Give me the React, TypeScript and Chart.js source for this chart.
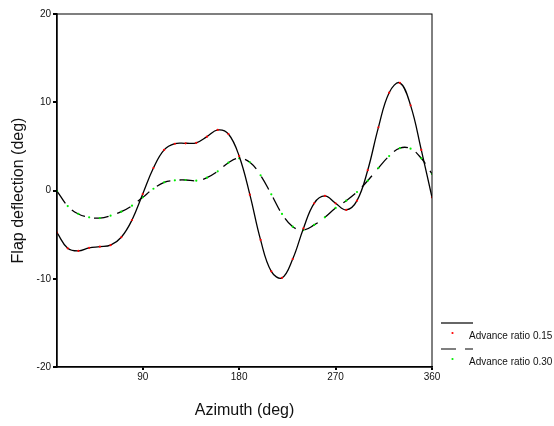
import React, { useEffect, useRef } from 'react';
import { Chart, registerables } from 'chart.js';

Chart.register(...registerables);

// ---- data ----
const azimuth = [10, 20, 30, 40, 50, 60, 70, 80, 90, 100, 110, 120, 130, 140, 150, 160, 170, 180,
  190, 200, 210, 220, 230, 240, 250, 260, 270, 280, 290, 300, 310, 320, 330, 340, 350, 360];

const advance015 = [-4.78, -6.55, -6.85, -6.5, -6.37, -6.2, -5.3, -3.34, -0.4, 2.55, 4.6, 5.3,
  5.35, 5.4, 6.1, 6.86, 6.4, 3.9, -0.47, -5.6, -9.16, -9.9, -7.76, -4.3,
  -1.45, -0.62, -1.45, -2.2, -1.15, 2.3, 7.16, 11.08, 12.2, 9.65, 4.6, -0.77];

const advance030 = [-0.06, -1.76, -2.66, -3.04, -3.12, -2.85, -2.4, -1.72, -0.77, 0.2, 0.93, 1.15,
  1.19, 1.11, 1.45, 2.17, 3.15, 3.65, 3.2, 1.72, -0.43, -2.66, -4.1, -4.48,
  -3.9, -3.04, -1.98, -1.15, -0.17, 1.11, 2.55, 3.9, 4.8, 4.74, 3.65, 1.87];

const xTickValues = [90, 180, 270, 360];
const yTickValues = [-20, -10, 0, 10, 20];
const seriesLabels = ['Advance ratio 0.15', 'Advance ratio 0.30'];
const xTitle = 'Azimuth (deg)';
const yTitle = 'Flap deflection (deg)';

const FONT = "Arial, 'Liberation Sans', Helvetica, sans-serif";

export default function App() {
  const ref = useRef<HTMLCanvasElement>(null);

  useEffect(() => {
    if (!ref.current) return;

    const framePlugin = {
      id: 'frame',
      afterDraw(chart: any) {
        const { ctx, chartArea: a } = chart;
        ctx.save();
        ctx.strokeStyle = '#000';
        ctx.lineWidth = 1;
        ctx.strokeRect(a.left, a.top, a.right - a.left, a.bottom - a.top);
        ctx.restore();
      },
    };

    const legendPlugin = {
      id: 'sideLegend',
      afterDraw(chart: any) {
        const { ctx, chartArea: a } = chart;
        ctx.save();
        const x0 = a.right + 9;
        const x1 = x0 + 32;
        let y = a.bottom - 44;
        chart.data.datasets.forEach((ds: any) => {
          // line sample
          ctx.strokeStyle = ds.borderColor;
          ctx.lineWidth = 1.2;
          ctx.setLineDash(ds.borderDash || []);
          ctx.beginPath();
          ctx.moveTo(x0, y);
          ctx.lineTo(x1, y);
          ctx.stroke();
          ctx.setLineDash([]);
          // point sample
          ctx.fillStyle = ds.pointBackgroundColor;
          ctx.beginPath();
          ctx.arc(x0 + 11.5, y + 10, 1.1, 0, Math.PI * 2);
          ctx.fill();
          // text
          ctx.fillStyle = '#111';
          ctx.font = `10px ${FONT}`;
          ctx.textBaseline = 'middle';
          ctx.textAlign = 'left';
          ctx.fillText(ds.label, x0 + 28, y + 13.5);
          y += 26;
        });
        ctx.restore();
      },
    };

    const chart = new Chart(ref.current, {
      type: 'line',
      data: {
        datasets: [
          {
            label: seriesLabels[0],
            data: azimuth.map((x, i) => ({ x, y: advance015[i] })),
            borderColor: '#000',
            borderWidth: 1.3,
            tension: 0.4,
            pointRadius: 1.1,
            pointBorderWidth: 0,
            pointBackgroundColor: '#ff0000',
            pointBorderColor: '#ff0000',
            fill: false,
          },
          {
            label: seriesLabels[1],
            data: azimuth.map((x, i) => ({ x, y: advance030[i] })),
            borderColor: '#000',
            borderWidth: 1.3,
            borderDash: [15, 9],
            tension: 0.4,
            pointRadius: 1.1,
            pointBorderWidth: 0,
            pointBackgroundColor: '#00ee00',
            pointBorderColor: '#00ee00',
            fill: false,
          },
        ],
      },
      options: {
        responsive: false,
        animation: false,
        devicePixelRatio: 1,
        layout: { padding: { left: 0, top: 14, right: 122, bottom: 0 } },
        plugins: {
          legend: { display: false },
          tooltip: { enabled: false },
        },
        scales: {
          x: {
            type: 'linear',
            min: 10,
            max: 360,
            afterBuildTicks: (s: any) => {
              s.ticks = xTickValues.map((v) => ({ value: v }));
            },
            afterFit: (s: any) => {
              s.height = 59;
            },
            grid: { drawOnChartArea: false, drawTicks: true, tickLength: 3, color: '#000', lineWidth: 2 },
            border: { display: true, color: '#000', width: 1.5 },
            ticks: { font: { family: FONT, size: 10 }, color: '#111', padding: 1, maxRotation: 0, autoSkip: false },
            title: { display: true, text: xTitle, font: { family: FONT, size: 16 }, color: '#111', padding: { top: 0, bottom: 6 } },
          },
          y: {
            type: 'linear',
            min: -20,
            max: 20,
            afterBuildTicks: (s: any) => {
              s.ticks = yTickValues.map((v) => ({ value: v }));
            },
            afterFit: (s: any) => {
              s.width = 57;
            },
            grid: { drawOnChartArea: false, drawTicks: true, tickLength: 4, color: '#000', lineWidth: 2 },
            border: { display: true, color: '#000', width: 1.5 },
            ticks: { font: { family: FONT, size: 10 }, color: '#111', padding: 2, autoSkip: false },
            title: { display: true, text: yTitle, font: { family: FONT, size: 16 }, color: '#111', padding: { top: 9, bottom: 0 } },
          },
        },
      },
      plugins: [framePlugin, legendPlugin],
    } as any);

    return () => chart.destroy();
  }, []);

  return (
    <div style={{ position: 'fixed', left: 0, top: 0, width: 554, height: 426, background: '#fff' }}>
      <canvas ref={ref} width={554} height={426} style={{ display: 'block' }} />
    </div>
  );
}
